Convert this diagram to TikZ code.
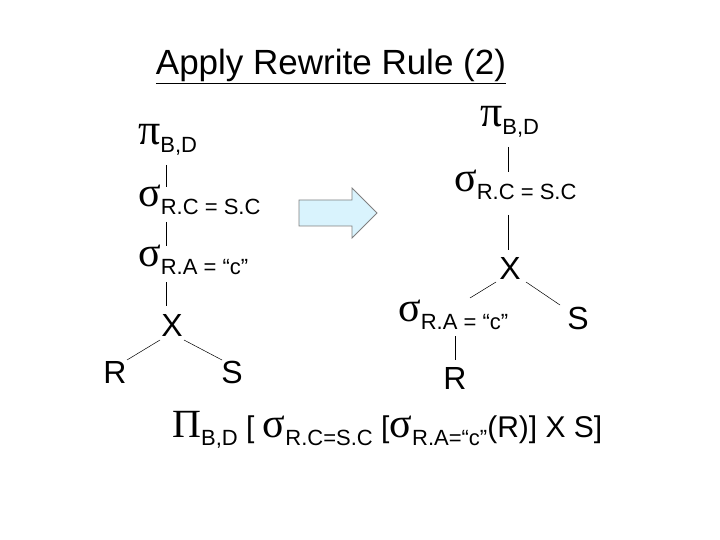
\documentclass[tikz,border=0pt]{standalone}
\usepackage{fontspec}
\setmainfont{Liberation Sans}
\newfontfamily\grk{Liberation Serif}
\newcommand{\sg}{{\grk\fontsize{42}{42}\selectfont σ}}
\newcommand{\pii}{{\grk\fontsize{44}{44}\selectfont π}}
\newcommand{\sbs}[1]{\raisebox{-8pt}{\fontsize{22}{22}\selectfont #1}}
\begin{document}
\begin{tikzpicture}[x=1pt,y=-1pt,
  lbl/.style={inner sep=0pt,anchor=west,font=\fontsize{22}{22}\selectfont},
  big/.style={inner sep=0pt,font=\fontsize{32}{32}\selectfont},
  edge/.style={draw=black,line width=0.5pt}]
\useasboundingbox (0,0) rectangle (720,540);
\node[inner sep=0pt,font=\fontsize{35}{35}\selectfont] (title) at (331,66) {\underline{Apply Rewrite Rule (2)}};
% left tree
\node[lbl] (lp) at (138,140) {\pii\sbs{B,D}};
\node[lbl] (ls1) at (138,200) {\sg\sbs{R.C = S.C}};
\node[lbl] (ls2) at (138,260) {\sg\sbs{R.A = “c”}};
\node[big] (lx) at (172,325) {X};
\node[big] (lr) at (115,372) {R};
\node[big] (ls) at (232,372) {S};
\draw[edge] (166,165) -- (166,187);
\draw[edge] (166,222) -- (166,246);
\draw[edge] (166,282) -- (166,306);
\draw[edge] (160,340) -- (127,360);
\draw[edge] (184,340) -- (222,360);
% arrow
\draw[gray,fill=cyan!15,line width=0.8pt] (299,200) -- (352,200) -- (352,188) -- (377,213) -- (352,238) -- (352,226) -- (299,226) -- cycle;
\coordinate (arr) at (337,213);
% right tree
\node[lbl] (rp) at (480,122) {\pii\sbs{B,D}};
\node[lbl] (rs1) at (454,185) {\sg\sbs{R.C = S.C}};
\node[big] (rx) at (510,268) {X};
\node[lbl] (rs2) at (398,315) {\sg\sbs{R.A = “c”}};
\node[big] (rS) at (578,318) {S};
\node[big] (rR) at (455,378) {R};
\draw[edge] (508,147) -- (508,172);
\draw[edge] (508,215) -- (508,250);
\draw[edge] (496,282) -- (470,298);
\draw[edge] (526,282) -- (560,305);
\draw[edge] (455,336) -- (455,360);
% formula
\node[lbl] (f) at (172,430) {{\grk\fontsize{40}{40}\selectfont Π}\sbs{B,D}\fontsize{30}{30}\selectfont{} [ \sg\sbs{R.C=S.C} [\sg\sbs{R.A=“c”}(R)] X S]};
\end{tikzpicture}
\end{document}
